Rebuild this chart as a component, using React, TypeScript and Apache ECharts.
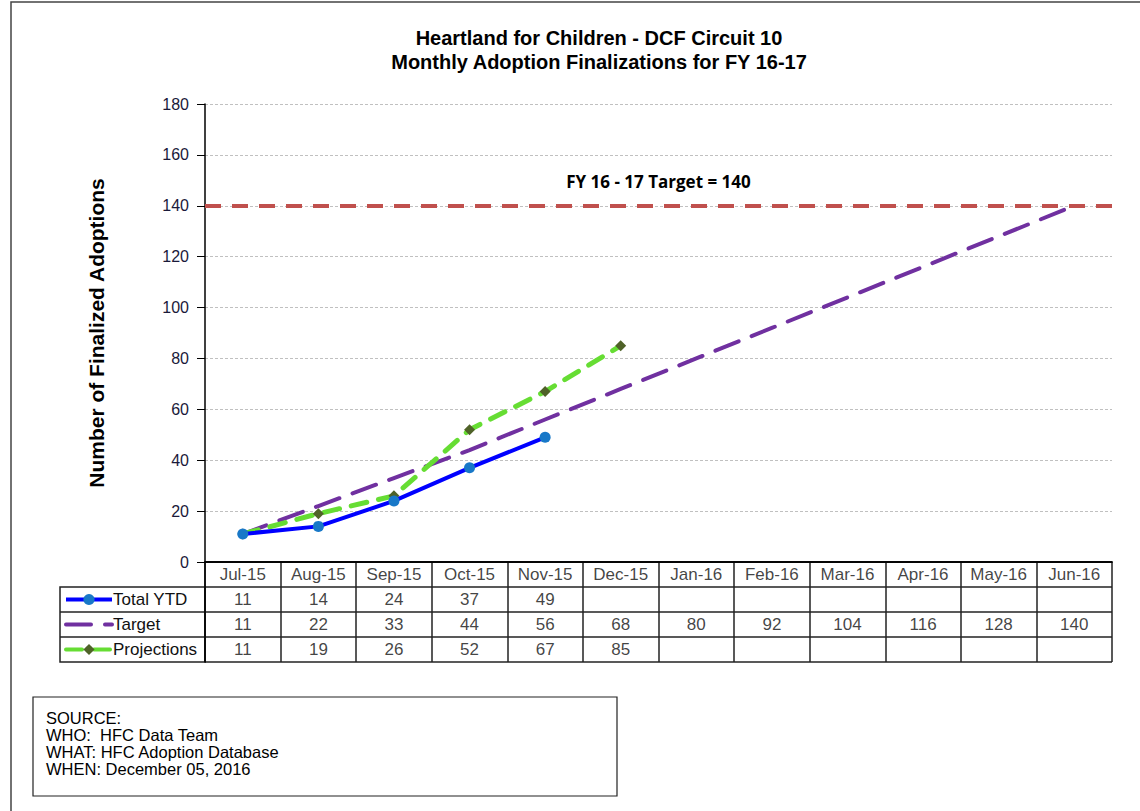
import React, { useEffect, useRef } from "react";
import * as echarts from "echarts";

const months = ["Jul-15", "Aug-15", "Sep-15", "Oct-15", "Nov-15", "Dec-15", "Jan-16", "Feb-16", "Mar-16", "Apr-16", "May-16", "Jun-16"];
const totalYTD = [11, 14, 24, 37, 49];
const target = [11, 22, 33, 44, 56, 68, 80, 92, 104, 116, 128, 140];
const projections = [11, 19, 26, 52, 67, 85];
const fyTarget = 140;
const tableRows = ["hdr", "Total YTD", "Target", "Projections"];
const yTicks = { min: 0, max: 180, interval: 20 };
const sourceLines = ["SOURCE:", "WHO:  HFC Data Team", "WHAT: HFC Adoption Database", "WHEN: December 05, 2016"];

const FONT = "Arial, 'Liberation Sans', sans-serif";

// layout
const PLOT_LEFT = 205;
const PLOT_RIGHT = 28;
const PLOT_TOP = 104;
const PLOT_BOTTOM_Y = 562;
const ROW_H = 25;

export default function App() {
  const ref = useRef<HTMLDivElement>(null);
  useEffect(() => {
    if (!ref.current) return;
    const chart = echarts.init(ref.current, null, { renderer: "svg" });

    const tableData: any[] = [];
    months.forEach((m, i) => tableData.push([i, "hdr", m]));
    totalYTD.forEach((v, i) => tableData.push([i, "Total YTD", String(v)]));
    target.forEach((v, i) => tableData.push([i, "Target", String(v)]));
    projections.forEach((v, i) => tableData.push([i, "Projections", String(v)]));

    const legTop = PLOT_BOTTOM_Y + ROW_H;
    const legLeft = 60;

    chart.setOption({
      animation: false,
      backgroundColor: "#fff",
      title: {
        text: "Heartland for Children - DCF Circuit 10\nMonthly Adoption Finalizations for FY 16-17",
        left: 594,
        top: 21,
        textAlign: "center",
        textStyle: { fontFamily: FONT, fontSize: 20, fontWeight: "bold", color: "#000", lineHeight: 24 },
      },
      legend: {
        data: [
          { name: "Total YTD" },
          { name: "Target", itemStyle: { opacity: 0 } },
          { name: "Projections" },
        ],
        orient: "vertical",
        left: 64,
        top: legTop + 4,
        itemWidth: 46,
        itemHeight: 14,
        itemGap: 8,
        lineStyle: { width: 4 },
        textStyle: { fontFamily: FONT, fontSize: 17, color: "#111", padding: [0, 0, 0, -4] },
        padding: 0,
      },
      grid: [
        { left: PLOT_LEFT, right: PLOT_RIGHT, top: PLOT_TOP, height: PLOT_BOTTOM_Y - PLOT_TOP },
        { left: PLOT_LEFT, right: PLOT_RIGHT, top: PLOT_BOTTOM_Y, height: ROW_H * 4 },
      ],
      xAxis: [
        {
          gridIndex: 0,
          type: "category",
          data: months,
          boundaryGap: true,
          axisLine: { show: true, lineStyle: { color: "#000", width: 1.5 } },
          axisTick: { show: false },
          axisLabel: { show: false },
          splitLine: { show: false },
        },
        {
          gridIndex: 1,
          type: "category",
          data: months.map((_, i) => i),
          boundaryGap: true,
          position: "top",
          axisLine: { show: true, lineStyle: { color: "#000", width: 1.5 } },
          axisTick: { show: false },
          axisLabel: { show: false },
          splitLine: { show: true, interval: 0, lineStyle: { color: "#222", width: 1.5 } },
        },
      ],
      yAxis: [
        {
          gridIndex: 0,
          type: "value",
          min: yTicks.min,
          max: yTicks.max,
          interval: yTicks.interval,
          name: "Number of Finalized Adoptions",
          nameLocation: "middle",
          nameGap: 98,
          nameRotate: 90,
          nameTextStyle: { fontFamily: FONT, fontSize: 21, fontWeight: "bold", color: "#000" },
          axisLine: { show: true, lineStyle: { color: "#000", width: 1.5 } },
          axisTick: { show: true, length: 8, lineStyle: { color: "#000" } },
          axisLabel: { fontFamily: FONT, fontSize: 16, color: "#1a1a3a", margin: 16 },
          splitLine: { show: true, lineStyle: { color: "#c0c0c0", type: [3, 2], width: 1 } },
        },
        {
          gridIndex: 1,
          type: "category",
          data: tableRows,
          inverse: true,
          axisLine: { show: true, lineStyle: { color: "#000", width: 1.5 } },
          axisTick: { show: false },
          axisLabel: { show: false },
          splitLine: { show: true, interval: 0, lineStyle: { color: "#222", width: 1.5 } },
        },
      ],
      series: [
        {
          name: "Total YTD",
          type: "line",
          data: totalYTD,
          symbol: "circle",
          symbolSize: 11,
          lineStyle: { color: "#0000FF", width: 4 },
          itemStyle: { color: "#1878C8" },
          z: 4,
        },
        {
          name: "Target",
          type: "line",
          data: target,
          symbol: "none",
          lineStyle: { color: "#7030A0", width: 4, type: [25, 14], cap: "round" },
          itemStyle: { color: "#7030A0" },
          z: 3,
          markLine: {
            silent: true,
            symbol: ["none", "none"],
            data: [{ yAxis: fyTarget }],
            lineStyle: { color: "#C0504D", width: 4, type: [16, 11] },
            label: {
              show: true,
              position: "insideMiddleTop",
              distance: 16,
              formatter: "FY 16 - 17 Target = " + fyTarget,
              fontFamily: "'Open Sans', 'Noto Sans', sans-serif",
              fontSize: 17,
              fontWeight: "bold",
              color: "#000",
            },
          },
        },
        {
          name: "Projections",
          type: "line",
          data: projections,
          symbol: "diamond",
          symbolSize: 11,
          lineStyle: { color: "#66DD33", width: 5, type: [16, 12], cap: "round" },
          itemStyle: { color: "#4F6228" },
          z: 3,
        },
        {
          name: "table",
          type: "scatter",
          xAxisIndex: 1,
          yAxisIndex: 1,
          data: tableData,
          encode: { x: 0, y: 1 },
          symbolSize: 1,
          itemStyle: { color: "rgba(0,0,0,0)" },
          silent: true,
          label: {
            show: true,
            position: "inside",
            formatter: (p: any) => p.data[2],
            fontFamily: FONT,
            fontSize: 17,
            color: "#111",
          },
        },
      ],
      graphic: [
        {
          type: "rect",
          silent: true,
          shape: { x: 11, y: 2, width: 1160, height: 840 },
          style: { fill: "none", stroke: "#444", lineWidth: 1.5 },
        },
        {
          type: "rect",
          silent: true,
          shape: { x: legLeft, y: legTop, width: PLOT_LEFT - legLeft, height: ROW_H * 3 },
          style: { fill: "none", stroke: "#222", lineWidth: 1.5 },
        },
        {
          type: "line",
          silent: true,
          shape: { x1: legLeft, y1: legTop + ROW_H, x2: PLOT_LEFT, y2: legTop + ROW_H },
          style: { stroke: "#222", lineWidth: 1.5 },
        },
        {
          type: "line",
          silent: true,
          shape: { x1: legLeft, y1: legTop + ROW_H * 2, x2: PLOT_LEFT, y2: legTop + ROW_H * 2 },
          style: { stroke: "#222", lineWidth: 1.5 },
        },
        {
          type: "rect",
          silent: true,
          shape: { x: 33, y: 697, width: 584, height: 99 },
          style: { fill: "none", stroke: "#222", lineWidth: 1.2 },
        },
        {
          type: "text",
          silent: true,
          x: 46,
          y: 709,
          style: {
            text: sourceLines.join("\n"),
            fontFamily: FONT,
            fontSize: 16.5,
            lineHeight: 17,
            fill: "#000",
          },
        },
      ],
    });
    return () => chart.dispose();
  }, []);
  return <div ref={ref} style={{ position: "fixed", left: 0, top: 0, width: 1140, height: 811 }} />;
}
